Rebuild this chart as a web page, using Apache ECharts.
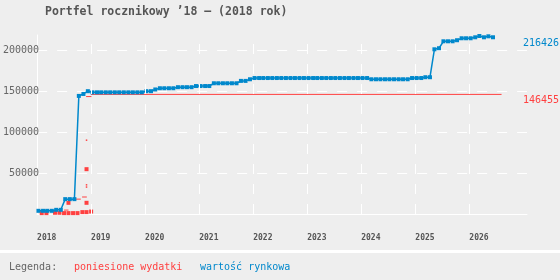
<!DOCTYPE html>
<html><head><meta charset="utf-8">
<script src="https://cdn.jsdelivr.net/npm/echarts@6/dist/echarts.min.js"></script>
<style>html,body{margin:0;padding:0;background:#eeeeee}#c{width:560px;height:280px}</style>
</head><body><div id="c"></div>
<script>
const titleText = 'Portfel rocznikowy ’18 – (2018 rok)';
const legendLabel = 'Legenda:';
const seriesNames = ['poniesione wydatki', 'wartość rynkowa'];
const yearLabels = ['2018','2019','2020','2021','2022','2023','2024','2025','2026'];
const xMin = '2018-01-01';
const xMax = '2027-01-26';
const yMax = 219200;
const yInterval = 50000;

// market value (monthly, starting 2018-01)
const blueValues = [
  3900,3900,3900,3900,5100,5100,18200,18200,18200,144600,147000,150400,
  149000,149000,149000,149000,149000,149000,149000,149000,149000,149000,149000,149000,
  150400,150400,152500,154000,154000,154000,154000,155300,155300,155300,155300,156700,
  156700,156700,156700,160100,160100,160100,160100,160100,160100,163000,163000,165000,
  166500,166500,166500,166500,166500,166500,166500,166500,166500,166500,166500,166500,
  166500,166500,166500,166500,166500,166500,166500,166500,166500,166500,166500,166500,
  166500,166500,165000,165000,165000,165000,165000,165000,165000,165000,165000,166500,
  166500,166500,167500,167500,201700,203000,211500,211500,211500,212800,215200,215200,
  215200,216400,218000,216400,217600,216426
];
// individual expenses
const expenseDates = ['2018-02-01','2018-03-05','2018-05-02','2018-06-01','2018-07-02','2018-08-01','2018-08-01','2018-09-01','2018-10-01','2018-11-03','2018-12-01','2018-12-01','2018-12-01','2019-01-01'];
const expenseValues = [1100,1100,1500,1500,1100,1100,13700,1100,1100,2300,2300,13700,54900,3000];
const dotDates = ['2018-12-01','2018-12-01','2018-12-01'];
const dotValues = [90400,35700,33000];
// cumulative spending segments
const segStart = ['2018-07-02','2018-09-20','2018-11-01','2018-11-28','2019-01-01'];
const segEnd   = ['2018-08-01','2018-10-23','2018-12-03','2019-01-03','2026-08-07'];
const segValue = [4800,18200,20800,143800,146455];

const MONO = '"DejaVu Sans Mono", monospace';
const BLUE = '#0088cc', RED = '#ff4040';
const T = s => echarts.number.parseDate(s).getTime();

const blueDates = blueValues.map((_, i) => {
  const y = 2018 + Math.floor(i / 12), m = (i % 12) + 1;
  return y + '-' + String(m).padStart(2, '0') + '-10';
});
const blueData = blueValues.map((v, i) => [T(blueDates[i]), v]);
const expData = expenseValues.map((v, i) => [T(expenseDates[i]), v]);
const dotData = dotValues.map((v, i) => [T(dotDates[i]), v]);
const segData = [];
segValue.forEach((v, i) => { segData.push([T(segStart[i]), v], [T(segEnd[i]), v], [T(segEnd[i]), '-']); });
const yearTicks = yearLabels.map(y => T(y + '-01-01'));

const chart = echarts.init(document.getElementById('c'));
const dash = { color: '#ffffff', width: 1, type: [10, 10] };
chart.setOption({
  animation: false,
  backgroundColor: '#eeeeee',
  grid: { left: 36, right: 33, top: 35, bottom: 66 },
  xAxis: {
    type: 'value',
    min: T(xMin), max: T(xMax),
    axisLine: { show: true, lineStyle: { color: '#ffffff', width: 1 } },
    axisTick: { show: false, customValues: yearTicks },
    splitLine: { show: false },
    axisLabel: {
      customValues: yearTicks,
      formatter: v => String(new Date(v).getFullYear()),
      align: 'left', margin: 20,
      color: '#555', fontSize: 8, fontWeight: 'bold', fontFamily: MONO
    }
  },
  yAxis: {
    type: 'value', min: 0, max: yMax, interval: yInterval,
    axisLine: { show: true, lineStyle: { color: '#ffffff', width: 1 } },
    axisTick: { show: false },
    splitLine: { show: true, showMinLine: false, showMaxLine: false, lineStyle: dash },
    axisLabel: {
      formatter: v => String(v), showMinLabel: false, showMaxLabel: false,
      margin: -2, padding: [7, 0, 0, 0],
      color: '#666', fontSize: 10, fontFamily: MONO
    }
  },
  series: [
    { name: 'grid', type: 'line', data: [], z: 1, silent: true,
      markLine: { silent: true, symbol: ['none', 'none'], label: { show: false },
        lineStyle: dash, emphasis: { disabled: true },
        data: yearTicks.slice(1).map(v => ({ xAxis: v })) } },
    { name: seriesNames[0], type: 'line', data: segData, showSymbol: false, connectNulls: false,
      lineStyle: { color: RED, width: 1 }, itemStyle: { color: RED }, z: 2 },
    { name: seriesNames[0] + ' ', type: 'scatter', data: expData, symbol: 'rect', symbolSize: 4,
      itemStyle: { color: RED, opacity: 1 }, z: 3 },
    { name: seriesNames[0] + '  ', type: 'scatter', data: dotData, symbol: 'rect', symbolSize: 1.5,
      itemStyle: { color: RED, opacity: 1 }, z: 3 },
    { name: seriesNames[1], type: 'line', data: blueData, symbol: 'rect', symbolSize: 4, showAllSymbol: true,
      lineStyle: { color: BLUE, width: 1.5 }, itemStyle: { color: BLUE }, z: 4 }
  ]
});

const lastI = blueValues.length - 1;
const yB = chart.convertToPixel({ gridIndex: 0 }, [T(blueDates[lastI]), blueValues[lastI]])[1];
const lastS = segValue.length - 1;
const yR = chart.convertToPixel({ gridIndex: 0 }, [T(segEnd[lastS]), segValue[lastS]])[1];
const txt = (x, y, text, color, extra) => ({ type: 'text', x, y, silent: true,
  style: Object.assign({ text, fill: color, font: '10px ' + MONO, align: 'left', verticalAlign: 'middle' }, extra || {}) });
chart.setOption({
  graphic: [
    { type: 'rect', shape: { x: 0, y: 250, width: 560, height: 3 }, style: { fill: '#ffffff' }, silent: true },
    txt(45, 12.5, titleText, '#555', { font: 'bold 11.5px ' + MONO }),
    txt(9, 267, legendLabel, '#666'),
    txt(74, 267, seriesNames[0], RED),
    txt(200, 267, seriesNames[1], BLUE),
    txt(523, yB + 6.5, String(blueValues[lastI]), BLUE),
    txt(523, yR + 6.5, String(segValue[lastS]), RED)
  ]
});
</script></body></html>
